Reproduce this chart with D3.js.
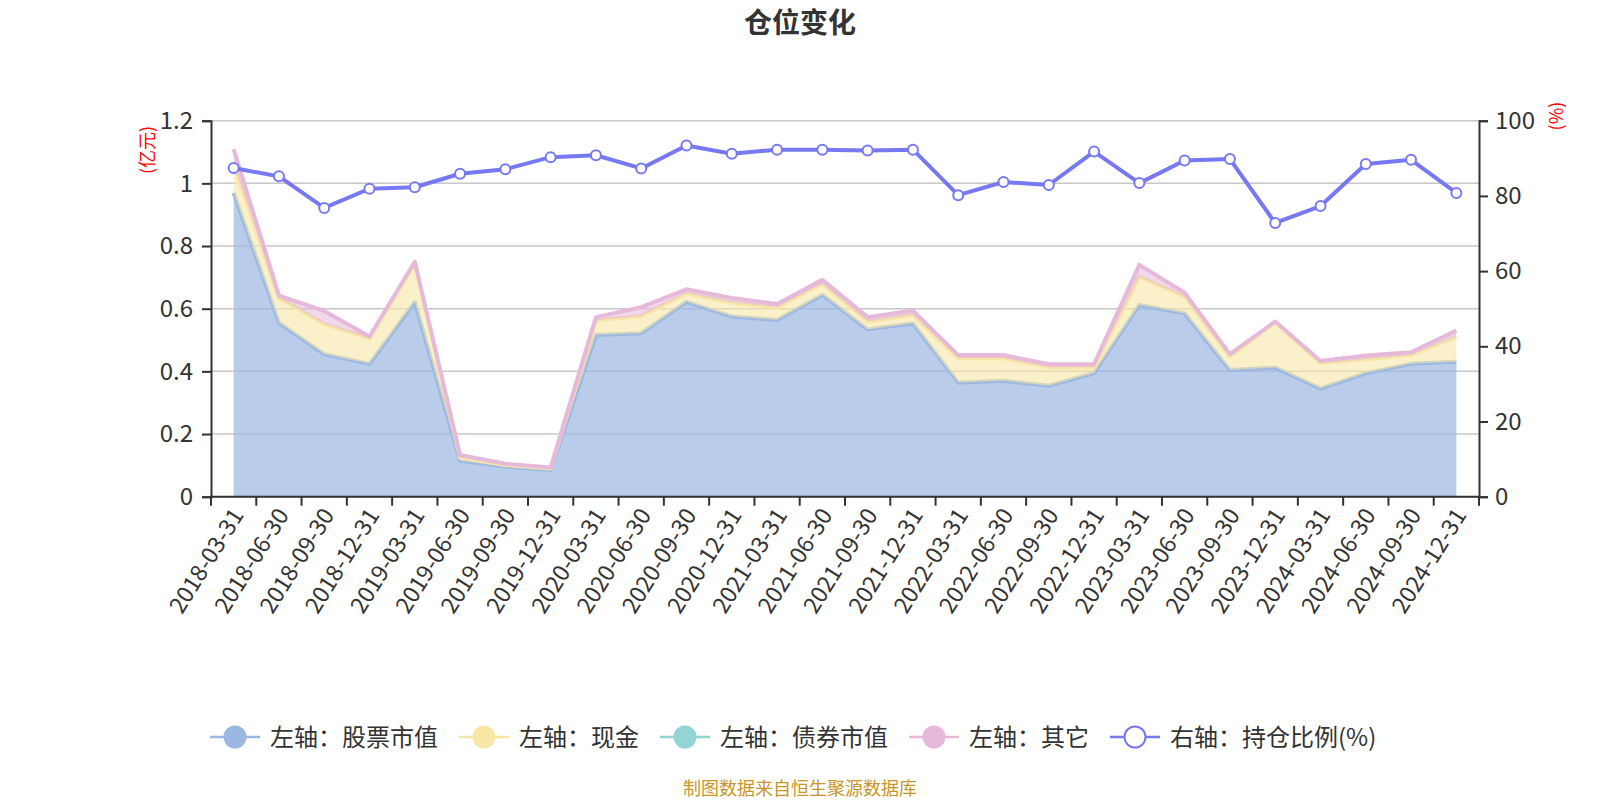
<!DOCTYPE html>
<html><head><meta charset="utf-8">
<script src="https://cdn.jsdelivr.net/npm/d3@7/dist/d3.min.js"></script>
<style>
html,body{margin:0;padding:0;background:#fff;}
text{font-family:"Noto Sans CJK SC","Noto Sans",sans-serif;}
</style></head>
<body>
<svg id="chart" width="1600" height="800"></svg>
<script>
const dates = ["2018-03-31","2018-06-30","2018-09-30","2018-12-31","2019-03-31","2019-06-30","2019-09-30","2019-12-31","2020-03-31","2020-06-30","2020-09-30","2020-12-31","2021-03-31","2021-06-30","2021-09-30","2021-12-31","2022-03-31","2022-06-30","2022-09-30","2022-12-31","2023-03-31","2023-06-30","2023-09-30","2023-12-31","2024-03-31","2024-06-30","2024-09-30","2024-12-31"];
const stockValue = [0.970,0.555,0.455,0.424,0.621,0.115,0.096,0.085,0.516,0.522,0.622,0.575,0.564,0.644,0.534,0.553,0.364,0.370,0.354,0.394,0.612,0.585,0.404,0.412,0.345,0.394,0.424,0.431];
const cashValue = [0.090,0.079,0.096,0.081,0.124,0.010,0.005,0.005,0.047,0.055,0.027,0.044,0.041,0.035,0.025,0.027,0.078,0.072,0.059,0.019,0.090,0.053,0.043,0.145,0.081,0.045,0.028,0.080];
const bondValue = [0,0,0,0,0,0,0,0,0,0,0,0,0,0,0,0,0,0,0,0,0,0,0,0,0,0,0,0];
const otherValue = [0.049,0.008,0.042,0.006,0.005,0.008,0.004,0.003,0.010,0.028,0.013,0.015,0.010,0.013,0.014,0.014,0.010,0.010,0.010,0.010,0.038,0.013,0.008,0.002,0.007,0.012,0.009,0.019];
const ratioValue = [87.4,85.2,76.8,81.9,82.3,85.9,87.1,90.3,90.8,87.3,93.4,91.2,92.3,92.3,92.1,92.3,80.2,83.7,82.9,91.8,83.4,89.4,89.8,72.8,77.3,88.5,89.6,80.8];
const leftTicks = [0,0.2,0.4,0.6,0.8,1,1.2];
const rightTicks = [0,20,40,60,80,100];
const seriesNames = ["左轴：股票市值","左轴：现金","左轴：债券市值","左轴：其它","右轴：持仓比例(%)"];
const seriesColors = ["#9bb8e3","#f7e6a5","#95d4d4","#e6b8da","#7679f2"];

const svg = d3.select("#chart");
const L = 211, R = 1479, T = 120.7, B = 496.7;
const numFont = '"Open Sans","Noto Sans",sans-serif';

const x = d3.scaleBand().domain(dates).range([L, R]).padding(0);
const cx = d => x(d) + x.bandwidth() / 2;
const yL = d3.scaleLinear().domain([0, 1.2]).range([B, T]);
const yR = d3.scaleLinear().domain([0, 100]).range([B, T]);

// title
svg.append("text").attr("x", 800).attr("y", 33).attr("text-anchor", "middle")
  .attr("font-size", 28).attr("font-weight", "bold").attr("fill", "#333").text("仓位变化");

// gridlines
svg.append("g").selectAll("line").data(leftTicks).join("line")
  .attr("x1", L).attr("x2", R).attr("y1", d => yL(d)).attr("y2", d => yL(d))
  .attr("stroke", "#c8c8c8").attr("stroke-width", 1.5);

// stacked data
const rows = dates.map((d, i) => ({date: d, stock: stockValue[i], cash: cashValue[i], bond: bondValue[i], other: otherValue[i]}));
const keys = ["stock","cash","bond","other"];
const stacked = d3.stack().keys(keys)(rows);
const fills = ["rgba(155,184,227,0.7)","rgba(247,230,165,0.6)","rgba(149,212,212,0.6)","rgba(230,184,218,0.55)"];

const area = d3.area().x(d => cx(d.data.date)).y0(d => yL(d[0])).y1(d => yL(d[1]));
const topLine = d3.line().x(d => cx(d.data.date)).y(d => yL(d[1]));

const gA = svg.append("g");
stacked.forEach((s, i) => {
  if (keys[i] === "bond") return;
  gA.append("path").datum(s).attr("d", area).attr("fill", fills[i]).attr("stroke", "none");
  gA.append("path").datum(s).attr("d", topLine).attr("fill", "none")
    .attr("stroke", seriesColors[i]).attr("stroke-width", 4).attr("stroke-linejoin", "round");
});

// ratio line
const rLine = d3.line().x((d, i) => cx(dates[i])).y(d => yR(d));
svg.append("path").datum(ratioValue).attr("d", rLine).attr("fill", "none")
  .attr("stroke", seriesColors[4]).attr("stroke-width", 4).attr("stroke-linejoin", "round");
svg.append("g").selectAll("circle").data(ratioValue).join("circle")
  .attr("cx", (d, i) => cx(dates[i])).attr("cy", d => yR(d)).attr("r", 5)
  .attr("fill", "#fff").attr("stroke", seriesColors[4]).attr("stroke-width", 2);

// axes
const axisColor = "#333";
const gL = svg.append("g").attr("transform", `translate(${L},0)`)
  .call(d3.axisLeft(yL).tickValues(leftTicks).tickSize(9).tickPadding(9).tickFormat(d => String(d)));
const gR = svg.append("g").attr("transform", `translate(${R},0)`)
  .call(d3.axisRight(yR).tickValues(rightTicks).tickSize(9).tickPadding(7).tickFormat(d => String(d)));
[gL, gR].forEach(g => {
  g.select(".domain").attr("stroke", axisColor).attr("stroke-width", 2);
  g.selectAll(".tick line").attr("stroke", axisColor).attr("stroke-width", 2);
  g.selectAll(".tick text").attr("fill", "#333").attr("font-size", 24)
    .attr("font-family", numFont);
});

// bottom axis
const gB = svg.append("g").attr("transform", `translate(0,${B})`);
gB.append("line").attr("x1", L).attr("x2", R).attr("y1", 0).attr("y2", 0)
  .attr("stroke", axisColor).attr("stroke-width", 2);
const bounds = dates.map(d => x(d)).concat([R]);
gB.selectAll("line.tk").data(bounds).join("line").attr("class", "tk")
  .attr("x1", d => d).attr("x2", d => d).attr("y1", 0).attr("y2", 9)
  .attr("stroke", axisColor).attr("stroke-width", 2);
gB.selectAll("text.lbl").data(dates).join("text").attr("class", "lbl")
  .attr("transform", d => `translate(${cx(d) + 4},${14}) rotate(-58)`)
  .attr("text-anchor", "end").attr("dy", "0.35em")
  .attr("font-size", 23).attr("fill", "#333").attr("font-family", numFont).text(d => d);

// axis names
svg.append("text").attr("transform", "translate(154,150) rotate(-90)")
  .attr("text-anchor", "middle").attr("font-size", 18).attr("fill", "#ff0000").text("(亿元)");
svg.append("text").attr("transform", "translate(1563,116) rotate(-90)")
  .attr("text-anchor", "middle").attr("font-size", 18).attr("fill", "#ff0000").text("(%)");

// legend
const lg = svg.append("g");
let lx = 210;
const ly = 737;
seriesNames.forEach((name, i) => {
  const g = lg.append("g");
  g.append("line").attr("x1", lx).attr("x2", lx + 50).attr("y1", ly).attr("y2", ly)
    .attr("stroke", seriesColors[i]).attr("stroke-width", 2.5);
  if (i === 4) {
    g.append("circle").attr("cx", lx + 25).attr("cy", ly).attr("r", 10.5)
      .attr("fill", "#fff").attr("stroke", seriesColors[i]).attr("stroke-width", 2);
  } else {
    g.append("circle").attr("cx", lx + 25).attr("cy", ly).attr("r", 11.5).attr("fill", seriesColors[i]);
  }
  const t = g.append("text").attr("x", lx + 60).attr("y", ly).attr("dy", "0.36em")
    .attr("font-size", 24).attr("fill", "#333").text(name);
  lx += 60 + t.node().getComputedTextLength() + 21;
});

// source
svg.append("text").attr("x", 800).attr("y", 795).attr("text-anchor", "middle")
  .attr("font-size", 18).attr("fill", "#c8952a").text("制图数据来自恒生聚源数据库");
</script>
</body></html>
